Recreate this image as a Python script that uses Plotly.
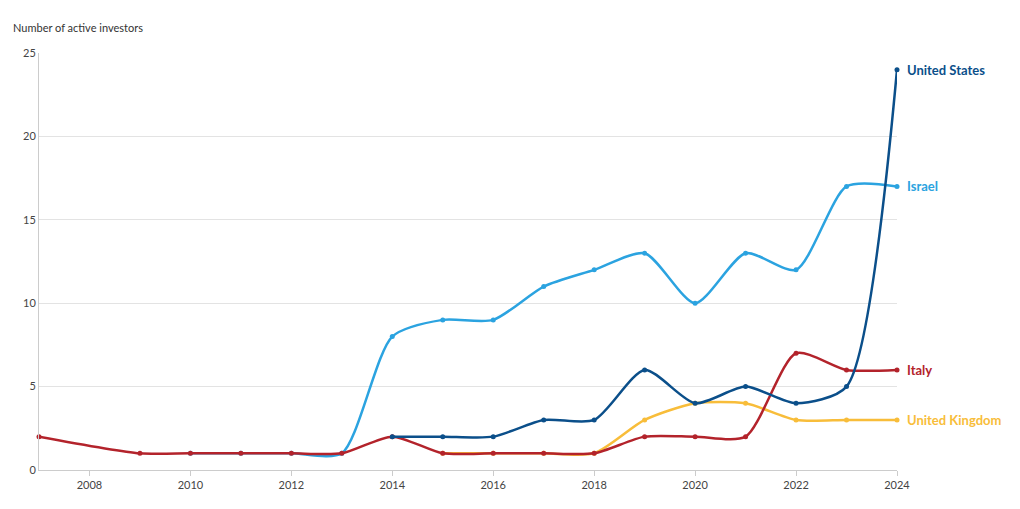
import plotly.graph_objects as go

italy_years = [2007, 2009, 2010, 2011, 2012, 2013, 2014, 2015, 2016, 2017, 2018, 2019, 2020, 2021, 2022, 2023, 2024]
italy_vals = [2, 1, 1, 1, 1, 1, 2, 1, 1, 1, 1, 2, 2, 2, 7, 6, 6]

israel_years = list(range(2010, 2025))
israel_vals = [1, 1, 1, 1, 8, 9, 9, 11, 12, 13, 10, 13, 12, 17, 17]

us_years = list(range(2014, 2025))
us_vals = [2, 2, 2, 3, 3, 6, 4, 5, 4, 5, 24]

uk_years = list(range(2015, 2025))
uk_vals = [1, 1, 1, 1, 3, 4, 4, 3, 3, 3]

series = [
    ("Israel", israel_years, israel_vals, "#2ba3e0"),
    ("United Kingdom", uk_years, uk_vals, "#f8bd3a"),
    ("Italy", italy_years, italy_vals, "#b3232b"),
    ("United States", us_years, us_vals, "#0b4f8a"),
]

fig = go.Figure()
for name, xs, ys, color in series:
    fig.add_trace(go.Scatter(
        x=xs, y=ys, name=name, mode="lines+markers",
        line=dict(color=color, width=2.5, shape="spline", smoothing=0.7),
        marker=dict(size=5, color=color),
        cliponaxis=False,
    ))
    fig.add_annotation(x=xs[-1], y=ys[-1], text=f"<b>{name}</b>", xanchor="left",
                       xshift=8, showarrow=False, font=dict(color=color, size=13))

fig.add_annotation(xref="paper", yref="paper", x=-0.033, y=1.04, xanchor="left", yanchor="bottom",
                   text="Number of active investors", showarrow=False,
                   font=dict(size=11, color="#333"))

fig.update_layout(
    width=1020, height=509, showlegend=False,
    plot_bgcolor="white", paper_bgcolor="white",
    margin=dict(l=31, r=131, t=45, b=47),
    font=dict(family="Lato, sans-serif", size=11, color="#444"),
    xaxis=dict(range=[2007, 2024], tickvals=list(range(2008, 2025, 2)), showgrid=False,
               showline=True, linecolor="#ccc", ticks="outside", ticklen=5, tickcolor="#ccc"),
    yaxis=dict(range=[0, 25], tickvals=[0, 5, 10, 15, 20, 25], gridcolor="#e3e3e3",
               showline=True, linecolor="#ccc", zeroline=False),
)

fig.write_html("out.html")
